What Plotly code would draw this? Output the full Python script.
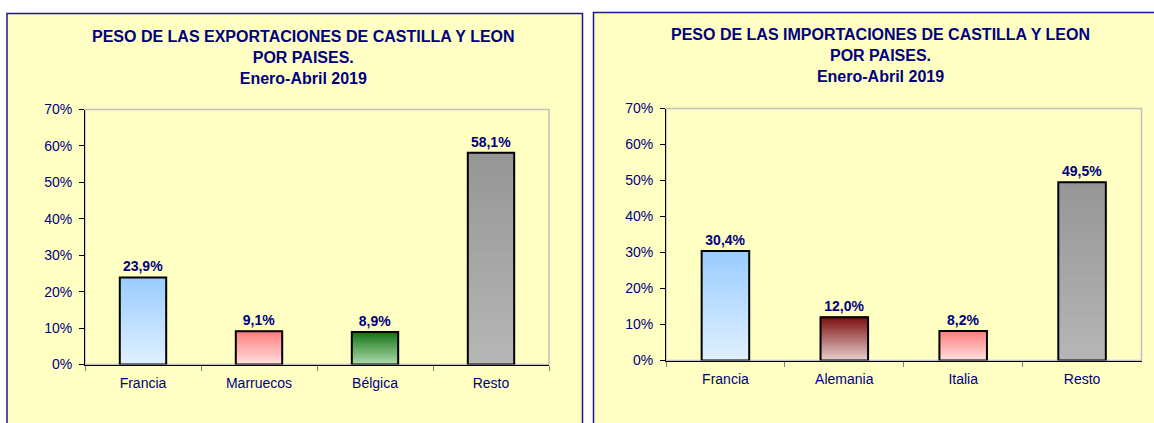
import plotly.graph_objects as go

# ---- data ----
exp_categories = ["Francia", "Marruecos", "Bélgica", "Resto"]
exp_values = [23.9, 9.1, 8.9, 58.1]
imp_categories = ["Francia", "Alemania", "Italia", "Resto"]
imp_values = [30.4, 12.0, 8.2, 49.5]
y_ticks = [0, 10, 20, 30, 40, 50, 60, 70]
exp_title = "PESO DE LAS EXPORTACIONES DE CASTILLA Y LEON<br>POR PAISES.<br>Enero-Abril 2019"
imp_title = "PESO DE LAS IMPORTACIONES DE CASTILLA Y LEON<br>POR PAISES.<br>Enero-Abril 2019"

# ---- styles (gradient top -> bottom) ----
GRAD = {
    "blue": ((153, 204, 255), (224, 240, 255)),
    "red": ((255, 125, 125), (255, 224, 224)),
    "green": ((20, 115, 20), (176, 220, 176)),
    "gray": ((150, 150, 150), (182, 182, 182)),
    "maroon": ((125, 15, 15), (232, 208, 208)),
}
exp_styles = ["blue", "red", "green", "gray"]
imp_styles = ["blue", "maroon", "red", "gray"]

NAVY = "#000080"
FONT = "Liberation Sans, Arial, sans-serif"
W, H = 1154, 423
N = 50
BW = 0.4


def px_x(p):
    return p / W


def px_y(p):
    return 1 - p / H


def mix(top, bot, t):
    c = [round(bot[i] + (top[i] - bot[i]) * t) for i in range(3)]
    return f"rgb({c[0]},{c[1]},{c[2]})"


fig = go.Figure()


def add_bars(cats, vals, styles, xa, ya):
    for j in range(N):
        t = (j + 0.5) / N
        cols = [mix(GRAD[s][0], GRAD[s][1], t) for s in styles]
        fig.add_trace(go.Bar(
            x=cats, y=[v * (N - j) / N for v in vals], base=[v * j / N for v in vals],
            width=BW, marker=dict(color=cols, line=dict(width=0)),
            xaxis=xa, yaxis=ya, showlegend=False, hoverinfo="skip"))
    fig.add_trace(go.Bar(
        x=cats, y=vals, base=0, width=BW,
        marker=dict(color="rgba(0,0,0,0)", line=dict(color="black", width=2)),
        text=[f"{v:.1f}%".replace(".", ",") for v in vals],
        textposition="outside", cliponaxis=False,
        textfont=dict(family=FONT, size=14, color=NAVY, weight="bold"),
        xaxis=xa, yaxis=ya, showlegend=False))


add_bars(exp_categories, exp_values, exp_styles, "x", "y")
add_bars(imp_categories, imp_values, imp_styles, "x2", "y2")

axis_x = dict(showline=True, linecolor="black", linewidth=1, ticks="outside",
              tickson="boundaries", ticklen=5, tickcolor="#808080",
              ticklabelstandoff=6,
              tickfont=dict(family=FONT, size=14, color=NAVY), showgrid=False)
axis_y = dict(range=[0, 70], tickmode="array", tickvals=y_ticks,
              ticktext=[f"{v}%" for v in y_ticks], showline=True,
              linecolor="black", linewidth=1, ticks="outside", ticklen=5,
              tickcolor="black", showgrid=False, zeroline=False,
              ticklabelstandoff=4,
              tickfont=dict(family=FONT, size=14, color=NAVY))

fig.update_layout(
    width=W, height=H, margin=dict(l=0, r=0, t=0, b=0, autoexpand=False),
    paper_bgcolor="white", plot_bgcolor="white",
    barmode="overlay",
    xaxis=dict(domain=[px_x(85), px_x(549)], anchor="y", **axis_x),
    yaxis=dict(domain=[px_y(364.5), px_y(109.5)], anchor="x", **axis_y),
    xaxis2=dict(domain=[px_x(666), px_x(1141.5)], anchor="y2", **axis_x),
    yaxis2=dict(domain=[px_y(360.5), px_y(108.5)], anchor="x2", **axis_y),
    font=dict(family=FONT),
)

# panels
fig.add_shape(type="rect", xref="paper", yref="paper", x0=px_x(7), x1=px_x(582.5),
              y0=-0.05, y1=px_y(13.5), fillcolor="#FFFFC4",
              line=dict(color="#1A1A80", width=1.5), layer="below")
fig.add_shape(type="rect", xref="paper", yref="paper", x0=px_x(593.5), x1=1.05,
              y0=-0.05, y1=px_y(12.5), fillcolor="#FFFFC4",
              line=dict(color="#1A1A80", width=1.5), layer="below")
# plot area frames (top/right gray)
for xr, yr in (("x domain", "y domain"), ("x2 domain", "y2 domain")):
    fig.add_shape(type="rect", xref=xr, yref=yr, x0=0, x1=1, y0=0, y1=1,
                  line=dict(color="#C0C0C0", width=1.5), layer="below")

fig.add_annotation(text=exp_title, xref="paper", yref="paper", x=px_x(303), y=px_y(58),
                   xanchor="center", yanchor="middle", showarrow=False,
                   font=dict(family=FONT, size=16, color=NAVY, weight="bold"))
fig.add_annotation(text=imp_title, xref="paper", yref="paper", x=px_x(880), y=px_y(55.5),
                   xanchor="center", yanchor="middle", showarrow=False,
                   font=dict(family=FONT, size=16, color=NAVY, weight="bold"))

fig.write_html("out.html")
